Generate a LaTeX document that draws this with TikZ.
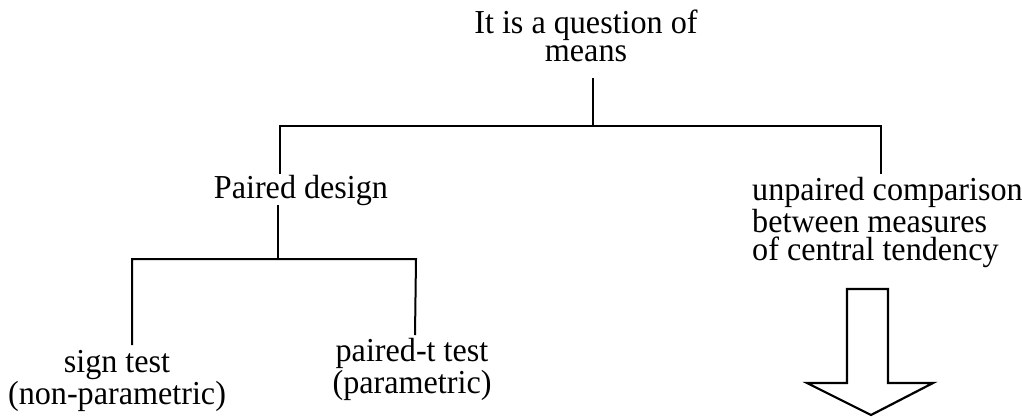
\documentclass[tikz,border=0pt]{standalone}
\usepackage{fontspec}
\setmainfont{Liberation Serif}[FakeStretch=0.96]
\begin{document}
\begin{tikzpicture}[x=1pt,y=-1pt,
  lbl/.style={inner sep=0pt, font=\fontsize{33.5}{28}\selectfont},
  bracket/.style={line width=2pt, line join=miter, line cap=butt},
  blockarrow/.style={line width=2.2pt, line join=miter, fill=white}]
\useasboundingbox (0,0) rectangle (1022,416);

% labels (base anchor = baseline of the last line)
\node[lbl, align=center, anchor=base] (root) at (586,61) {It is a question of\\means};
\node[lbl, anchor=base] (paired) at (301,198) {Paired design};
\node[lbl, align=left, anchor=base west] (unpaired) at (752,260)
  {unpaired comparison\\between measures\\of central tendency};
\node[lbl, align=center, anchor=base] (sign) at (117,404) {sign test\\(non-parametric)};
\node[lbl, align=center, anchor=base] (pairedt) at (412,393) {paired-t test\\(parametric)};

% junction points of the tree
\coordinate (rootstem) at (593,78);
\coordinate (rootbar) at (593,126);
\coordinate (barL) at (280,126);
\coordinate (barR) at (881,126);
\coordinate (pairedtop) at (280,174);
\coordinate (unpairedtop) at (881,174);
\coordinate (pairedstem) at (278,205);
\coordinate (pairedbar) at (278,259);
\coordinate (subL) at (132,259);
\coordinate (subR) at (416,259);
\coordinate (signtop) at (132,345);
\coordinate (pairedttop) at (415,335);

\draw[bracket] (rootstem) -- (rootbar);
\draw[bracket] (pairedtop) -- (barL) -- (barR) -- (unpairedtop);
\draw[bracket] (pairedstem) -- (pairedbar);
\draw[bracket] (signtop) -- (subL) -- (subR) -- (pairedttop);

% hollow block arrow below the unpaired branch
\draw[blockarrow] (847,289) -- (888,289) -- (888,383) -- (933,383)
  -- (871,415) -- (807,383) -- (847,383) -- cycle;
\end{tikzpicture}
\end{document}
